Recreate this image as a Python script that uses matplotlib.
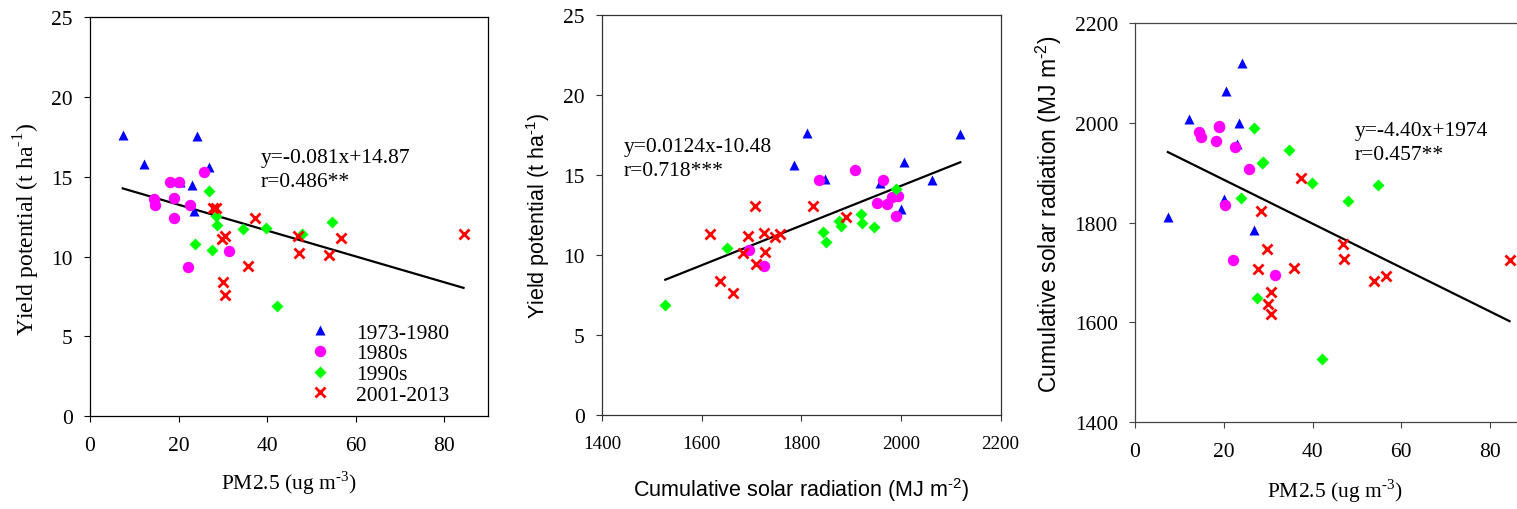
import matplotlib
matplotlib.use("Agg")
import matplotlib.pyplot as plt
import numpy as np

# ---------------- data ----------------
groups = ["1973-1980", "1980s", "1990s", "2001-2013"]

pm_7380 = [24.1, 7.4, 12.1, 26.8, 20.4, 23.0, 23.45, 20.0]
rad_7380 = [2119, 1812, 2007, 1786, 2063, 1958, 2000, 1848]
yld_7380 = [17.57, 17.65, 15.8, 15.6, 14.68, 14.47, 12.85, 14.75]

pm_80s = [25.7, 18.15, 20.2, 14.4, 14.8, 18.95, 22.5, 18.9, 31.45, 22.15]
rad_80s = [1908, 1964, 1836, 1982, 1971, 1994, 1952, 1991, 1696, 1726]
yld_80s = [15.33, 14.7, 14.7, 13.6, 13.2, 13.7, 13.23, 12.41, 10.33, 9.32]

pm_90s = [26.9, 28.55, 28.8, 34.65, 39.85, 47.95, 54.75, 23.8, 27.6, 42.15]
rad_90s = [1990, 1919, 1922, 1945, 1880, 1843, 1876, 1849, 1650, 1527]
yld_90s = [14.1, 12.54, 12.0, 11.72, 11.8, 11.43, 12.15, 10.8, 10.42, 6.9]

pm_0113 = [37.35, 28.4, 27.8, 29.85, 35.75, 46.95, 47.15, 30.6, 30.0, 30.6, 53.95, 56.65, 84.4]
rad_0113 = [1889, 1823, 1708, 1747, 1710, 1758, 1727, 1662, 1637, 1617, 1683, 1694, 1725]
yld_0113 = [12.4, 13.05, 13.05, 11.1, 9.42, 11.3, 10.2, 7.6, 8.39, 11.3, 10.1, 11.19, 11.4]

# regression coefficients (as printed)
fit1 = (-0.081, 14.87)
fit2 = (0.0124, -10.48)
fit3 = (-4.40, 1974)
eq_texts = [("y=-0.081x+14.87", "r=0.486**"),
            ("y=0.0124x-10.48", "r=0.718***"),
            ("y=-4.40x+1974", "r=0.457**")]

# ---------------- style ----------------
SERIF = ["Liberation Serif", "DejaVu Serif"]
SANS = ["Liberation Sans", "DejaVu Sans"]
colors = ["#0000ff", "#ff00ff", "#00ff00", "#ff0000"]
mk = [dict(marker="^", ms=7.8, mec="none"),
      dict(marker="o", ms=8.2, mec="none"),
      dict(marker="D", ms=6.4, mec="none"),
      dict(marker="x", ms=7.2, mew=2.0)]

W, H = 1517, 510
fig = plt.figure(figsize=(W / 100, H / 100), dpi=100)


def ax_rect(l, r, t, b):
    return [l / W, 1 - b / H, (r - l) / W, (b - t) / H]


ax1 = fig.add_axes(ax_rect(90, 488.3, 18.3, 417))
ax2 = fig.add_axes(ax_rect(602, 1000.6, 16, 416))
ax3 = fig.add_axes(ax_rect(1135, 1534.4, 24, 423.3))

xs_pm = [pm_7380, pm_80s, pm_90s, pm_0113]
xs_rad = [rad_7380, rad_80s, rad_90s, rad_0113]
ys_yld = [yld_7380, yld_80s, yld_90s, yld_0113]
ys_rad = xs_rad


def draw(ax, xs, ys, fit):
    allx = np.concatenate([np.asarray(v, float) for v in xs])
    lx = np.array([allx.min(), allx.max()])
    ax.plot(lx, fit[0] * lx + fit[1], color="black", lw=1.6, zorder=2)
    handles = []
    for i in range(4):
        h, = ax.plot(xs[i], ys[i], ls="none", color=colors[i], zorder=3,
                     label=groups[i], **mk[i])
        handles.append(h)
    return handles


h1 = draw(ax1, xs_pm, ys_yld, fit1)
draw(ax2, xs_rad, ys_yld, fit2)
draw(ax3, xs_pm, ys_rad, fit3)

ax1.set_xlim(0, 90)
ax1.set_ylim(0, 25)
ax1.set_xticks([0, 20, 40, 60, 80])
ax1.set_yticks([0, 5, 10, 15, 20, 25])

ax2.set_xlim(1400, 2200)
ax2.set_ylim(0, 25)
ax2.set_xticks([1400, 1600, 1800, 2000, 2200])
ax2.set_yticks([0, 5, 10, 15, 20, 25])

ax3.set_xlim(0, 90)
ax3.set_ylim(1400, 2200)
ax3.set_xticks([0, 20, 40, 60, 80])
ax3.set_yticks([1400, 1600, 1800, 2000, 2200])

for ax, xfs, spc in [(ax1, 15.5, "black"), (ax2, 13.8, "#333333"), (ax3, 15.5, "#444444")]:
    ax.tick_params(direction="out", length=4.3, width=0.8, color=spc)
    ax.tick_params(axis="x", pad=10)
    ax.tick_params(axis="y", pad=8)
    for s in ax.spines.values():
        s.set_linewidth(0.9)
        s.set_color(spc)
    for lab in ax.get_xticklabels():
        lab.set_fontfamily(SERIF)
        lab.set_fontsize(xfs)
    for lab in ax.get_yticklabels():
        lab.set_fontfamily(SERIF)
        lab.set_fontsize(15.5)

# axis labels (hyphen U+2010 keeps the short dash of the original superscripts)
ax1.set_xlabel("PM2.5 (ug m$^{\\mathregular{\u20103}}$)", family=SERIF, fontsize=15.5)
ax1.set_ylabel("Yield potential (t ha$^{\\mathregular{\u20101}}$)", family=SERIF, fontsize=17)
ax2.set_xlabel("Cumulative solar radiation (MJ m$^{\\mathregular{\u20102}}$)", family=SANS, fontsize=15.5)
ax2.set_ylabel("Yield potential (t ha$^{\\mathregular{\u20101}}$)", family=SANS, fontsize=15.5)
ax3.set_xlabel("PM2.5 (ug m$^{\\mathregular{\u20103}}$)", family=SERIF, fontsize=15.5)
ax3.set_ylabel("Cumulative solar radiation (MJ m$^{\\mathregular{\u20102}}$)", family=SANS, fontsize=16.5)

for ax, (xc, yc), (yx, yy) in [(ax1, (0.5, -0.166), (-0.158, 0.47)),
                               (ax2, (0.5, -0.185), (-0.16, 0.5)),
                               (ax3, (0.5, -0.171), (-0.216, 0.524))]:
    ax.xaxis.set_label_coords(xc, yc)
    ax.xaxis.label.set_va("center")
    ax.yaxis.set_label_coords(yx, yy)
    ax.yaxis.label.set_va("center")

# equations
for ax, (eq, rr), (x0, y1, y2) in [(ax1, eq_texts[0], (38.5, 16.2, 14.7)),
                                   (ax2, eq_texts[1], (1443, 16.77, 15.27)),
                                   (ax3, eq_texts[2], (49.6, 1984, 1937))]:
    ax.text(x0, y1, eq, family=SERIF, fontsize=15.5, va="center", ha="left")
    ax.text(x0, y2, rr, family=SERIF, fontsize=15.5, va="center", ha="left")

leg = ax1.legend(handles=h1, loc="upper left", bbox_to_anchor=(0.55, 0.234),
                 frameon=False, prop={"family": SERIF, "size": 15.5},
                 handlelength=1.0, handletextpad=1.2, labelspacing=0.03,
                 borderpad=0, borderaxespad=0, numpoints=1)

fig.savefig("out.png", dpi=100)
